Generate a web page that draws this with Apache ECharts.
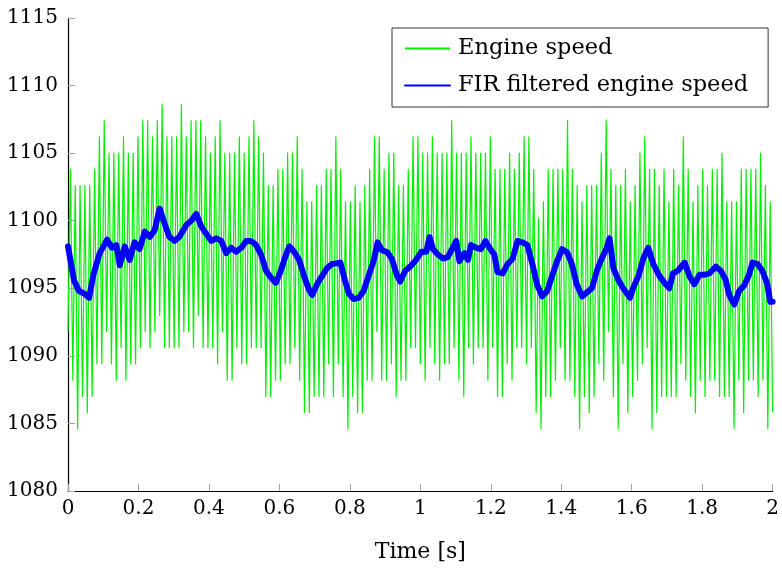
<!DOCTYPE html>
<html>
<head>
<meta charset="utf-8">
<script src="https://cdn.jsdelivr.net/npm/echarts@6/dist/echarts.min.js"></script>
<style>
  html, body { margin: 0; padding: 0; background: #ffffff; }
  #chart { width: 782px; height: 568px; }
</style>
</head>
<body>
<div id="chart"></div>
<script>
// Raw engine speed [rpm], uniformly sampled over 0..2 s
const sampleStep = 2 / 292;
const engineSpeed = [
  1091.8, 1103.8, 1088.2, 1102.6, 1084.6, 1102.6, 1087.0, 1102.6, 1085.8, 1102.6,
  1087.0, 1103.8, 1089.4, 1106.2, 1089.4, 1107.4, 1091.8, 1105.0, 1089.4, 1105.0,
  1088.2, 1105.0, 1090.6, 1106.2, 1088.2, 1105.0, 1089.4, 1105.0, 1089.4, 1106.2,
  1090.6, 1107.4, 1091.8, 1107.4, 1090.6, 1106.2, 1091.8, 1107.4, 1093.0, 1108.6,
  1090.6, 1106.2, 1090.6, 1106.2, 1090.6, 1106.2, 1090.6, 1108.6,
  1091.8, 1106.2, 1091.8, 1107.4, 1090.6, 1107.4, 1093.0, 1107.4, 1090.6, 1106.2,
  1090.6, 1105.0, 1090.6, 1106.2, 1089.4, 1107.4, 1091.8, 1105.0, 1088.2, 1105.0,
  1088.2, 1105.0, 1090.6, 1106.2, 1089.4, 1105.0, 1089.4, 1106.2, 1090.6, 1107.4,
  1090.6, 1106.2, 1090.6, 1105.0, 1087.0, 1102.6, 1087.0, 1102.6, 1088.2, 1103.8,
  1088.2, 1103.8, 1089.4, 1105.0, 1089.4, 1105.0, 1090.6, 1106.2,
  1088.2, 1103.8, 1085.8, 1101.4, 1085.8, 1101.4, 1087.0, 1102.6, 1087.0, 1102.6,
  1087.0, 1103.8, 1089.4, 1103.8, 1087.0, 1106.2, 1089.4, 1103.8, 1087.0, 1101.4,
  1084.6, 1101.4, 1087.0, 1102.6, 1085.8, 1101.4, 1085.8, 1102.6, 1088.2, 1103.8,
  1088.2, 1106.2, 1091.8, 1106.2, 1088.2, 1103.8, 1088.2, 1105.0, 1089.4, 1105.0,
  1087.0, 1102.6, 1088.2, 1102.6, 1088.2, 1103.8, 1090.6, 1106.2, 1090.6,
  1106.2, 1089.4, 1105.0, 1088.2, 1105.0, 1090.6, 1106.2, 1089.4, 1105.0, 1088.2,
  1105.0, 1089.4, 1105.0, 1089.4, 1107.4, 1090.6, 1105.0, 1088.2, 1105.0, 1087.0,
  1105.0, 1090.6, 1106.2, 1089.4, 1105.0, 1090.6, 1105.0, 1090.6, 1105.0, 1088.2,
  1106.2, 1090.6, 1103.8, 1087.0, 1103.8, 1087.0, 1103.8, 1089.4, 1105.0, 1088.2,
  1103.8, 1090.6, 1105.0, 1090.6, 1106.2, 1089.4, 1106.2, 1090.6, 1103.8, 1085.8,
  1100.2, 1084.6, 1101.4, 1087.0, 1103.8, 1087.0, 1103.8, 1088.2, 1103.8, 1090.6,
  1103.8, 1088.2, 1107.4, 1088.2, 1103.8, 1087.0, 1102.6, 1084.6, 1101.4, 1087.0,
  1102.6, 1085.8, 1102.6, 1087.0, 1102.6, 1089.4, 1105.0, 1088.2, 1107.4, 1091.8,
  1103.8, 1087.0, 1102.6, 1084.6, 1102.6, 1089.4, 1103.8, 1085.8, 1101.4, 1087.0,
  1102.6, 1088.2, 1105.0, 1089.4, 1106.2, 1090.6, 1103.8,
  1084.6,
  1103.8, 1085.8, 1102.6, 1087.0, 1103.8, 1087.0, 1101.4, 1087.0, 1103.8, 1087.0,
  1102.6, 1089.4, 1106.2, 1088.2, 1103.8, 1087.0, 1101.4, 1085.8, 1102.6, 1088.2,
  1103.8, 1087.0, 1102.6, 1088.2, 1103.8, 1088.2, 1103.8, 1087.0, 1105.0, 1087.0,
  1101.4, 1087.0, 1101.4, 1084.6, 1101.4, 1088.2, 1103.8, 1085.8, 1103.8, 1088.2,
  1103.8, 1088.2, 1103.8, 1087.0, 1105.0, 1088.2, 1102.6, 1084.6, 1101.4, 1085.8
];

// FIR filter output: time [s] and speed [rpm]
const filterTime = [
  0.000, 0.017, 0.031, 0.047, 0.060, 0.072, 0.090, 0.111, 0.125, 0.137,
  0.147, 0.161, 0.175, 0.189, 0.203, 0.218, 0.232, 0.246, 0.260, 0.274,
  0.288, 0.302, 0.316, 0.336, 0.350, 0.364, 0.378, 0.393, 0.407, 0.421,
  0.435, 0.449, 0.463, 0.477, 0.492, 0.506, 0.520, 0.534, 0.548, 0.562,
  0.576, 0.590, 0.604, 0.619, 0.628, 0.642, 0.656, 0.670, 0.684, 0.693,
  0.707, 0.721, 0.735, 0.750, 0.773, 0.787, 0.797, 0.811, 0.825, 0.839,
  0.853, 0.867, 0.879, 0.891, 0.905, 0.919, 0.933, 0.943, 0.957, 0.971,
  0.985, 1.003, 1.017, 1.026, 1.036, 1.050, 1.064, 1.078, 1.092, 1.102,
  1.111, 1.125, 1.135, 1.144, 1.158, 1.172, 1.185, 1.196, 1.210, 1.219,
  1.234, 1.248, 1.262, 1.276, 1.290, 1.304, 1.318, 1.331, 1.346, 1.360,
  1.374, 1.388, 1.402, 1.416, 1.430, 1.444, 1.459, 1.473, 1.487, 1.501,
  1.515, 1.529, 1.537, 1.548, 1.562, 1.576, 1.595, 1.604, 1.619, 1.633,
  1.647, 1.661, 1.679, 1.693, 1.707, 1.717, 1.731, 1.750, 1.764, 1.778,
  1.792, 1.806, 1.820, 1.839, 1.853, 1.867, 1.877, 1.891, 1.905, 1.919,
  1.933, 1.943, 1.957, 1.971, 1.985, 1.993, 2.000
];
const filterSpeed = [
  1098.1, 1095.6, 1094.8, 1094.6, 1094.3, 1096.0, 1097.6, 1098.6, 1098.0, 1098.2,
  1096.7, 1098.1, 1097.1, 1098.4, 1097.9, 1099.2, 1098.8, 1099.3, 1100.9, 1099.8,
  1098.8, 1098.5, 1098.8, 1099.7, 1100.0, 1100.5, 1099.6, 1099.0, 1098.5, 1098.7,
  1098.5, 1097.6, 1098.0, 1097.7, 1098.0, 1098.5, 1098.5, 1098.2, 1097.5, 1096.3,
  1095.8, 1095.4, 1096.3, 1097.5, 1098.1, 1097.7, 1097.1, 1095.9, 1094.9, 1094.5,
  1095.3, 1095.9, 1096.5, 1096.8, 1096.9, 1095.5, 1094.6, 1094.2, 1094.3, 1094.8,
  1095.9, 1097.0, 1098.4, 1097.8, 1097.7, 1097.2, 1096.0, 1095.5, 1096.3, 1096.6,
  1097.0, 1097.7, 1097.7, 1098.8, 1097.9, 1097.5, 1097.2, 1097.3, 1098.0, 1098.5,
  1097.0, 1097.6, 1097.1, 1098.2, 1098.0, 1097.9, 1098.5, 1098.0, 1097.5, 1096.2,
  1096.1, 1096.8, 1097.2, 1098.5, 1098.4, 1098.2, 1096.8, 1095.3, 1094.4, 1094.8,
  1095.9, 1097.0, 1097.9, 1097.7, 1096.8, 1095.3, 1094.4, 1094.7, 1095.0, 1096.3,
  1097.2, 1098.0, 1098.7, 1096.5, 1095.6, 1095.0, 1094.3, 1095.0, 1095.9, 1097.2,
  1098.0, 1096.8, 1095.9, 1095.4, 1095.0, 1096.1, 1096.3, 1096.9, 1095.9, 1095.3,
  1096.0, 1096.0, 1096.1, 1096.6, 1096.3, 1095.6, 1094.5, 1093.8, 1094.8, 1095.2,
  1096.0, 1096.9, 1096.8, 1096.3, 1095.3, 1094.0, 1094.0
];

// Axis ranges and ticks
const timeRange = [0, 2];
const timeStep = 0.2;
const speedRange = [1080, 1115];
const speedStep = 5;
const seriesNames = ['Engine speed', 'FIR filtered engine speed'];

const serif = '"DejaVu Serif", "Liberation Serif", serif';

const chart = echarts.init(document.getElementById('chart'), null, { renderer: 'canvas' });

chart.setOption({
  animation: false,
  backgroundColor: '#ffffff',
  grid: { left: 68, right: 6, top: 18, bottom: 76, containLabel: false },
  legend: {
    orient: 'vertical',
    left: 392,
    top: 28,
    padding: [9, 20, 10, 12],
    itemGap: 14,
    itemWidth: 45,
    itemHeight: 14,
    borderColor: '#333333',
    borderWidth: 1,
    borderRadius: 0,
    backgroundColor: '#ffffff',
    itemStyle: { opacity: 0 },
    textStyle: { fontFamily: serif, fontSize: 22.5, color: '#000000', padding: [0, 0, 0, 3] },
    data: seriesNames
  },
  xAxis: {
    type: 'value',
    min: timeRange[0],
    max: timeRange[1],
    interval: timeStep,
    name: 'Time [s]',
    nameLocation: 'middle',
    nameGap: 50,
    nameTextStyle: { fontFamily: serif, fontSize: 22, color: '#000000' },
    axisLine: { show: true, lineStyle: { color: '#000000', width: 1.2 } },
    axisTick: { show: true, inside: true, length: 7, lineStyle: { color: '#a0a0a0', width: 1 } },
    splitLine: { show: false },
    axisLabel: {
      fontFamily: serif, fontSize: 20, color: '#000000', margin: 8,
      formatter: (v) => String(+v.toFixed(1))
    }
  },
  yAxis: {
    type: 'value',
    min: speedRange[0],
    max: speedRange[1],
    interval: speedStep,
    axisLine: { show: true, lineStyle: { color: '#000000', width: 1.2 } },
    axisTick: { show: true, inside: true, length: 7, lineStyle: { color: '#a0a0a0', width: 1 } },
    splitLine: { show: false },
    axisLabel: {
      fontFamily: serif, fontSize: 20, color: '#000000', margin: 10,
      formatter: (v) => String(v)
    }
  },
  series: [
    {
      name: seriesNames[0],
      type: 'line',
      data: engineSpeed.map((v, i) => [i * sampleStep, v]),
      symbol: 'none',
      showSymbol: false,
      clip: true,
      lineStyle: { color: '#00f000', width: 1.2, join: 'round' },
      itemStyle: { color: '#00f000' },
      z: 2
    },
    {
      name: seriesNames[1],
      type: 'line',
      data: filterTime.map((t, i) => [t, filterSpeed[i]]),
      symbol: 'none',
      showSymbol: false,
      clip: true,
      lineStyle: { color: '#0000ff', width: 6, join: 'round', cap: 'round' },
      itemStyle: { color: '#0000ff' },
      z: 3
    }
  ]
});
</script>
</body>
</html>
